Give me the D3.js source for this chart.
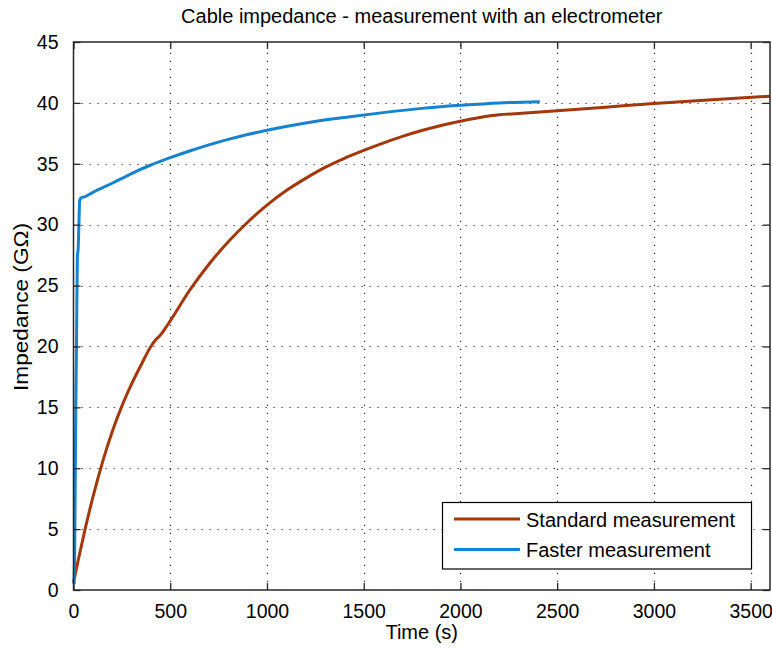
<!DOCTYPE html>
<html>
<head>
<meta charset="utf-8">
<script src="https://cdn.jsdelivr.net/npm/d3@7"></script>
<style>
  html, body { margin: 0; padding: 0; background: #fff; }
  svg { display: block; }
  text { font-family: "Liberation Sans", Arial, Helvetica, sans-serif; fill: #000; }
</style>
</head>
<body>
<div id="chart"></div>
<script>
// ---- Data ----
const standardTime = [0, 25, 60, 100, 150, 200, 250, 300, 350, 400, 425, 450, 475, 500, 600, 700, 800, 900, 1000, 1100, 1200, 1300, 1400, 1500, 1600, 1700, 1800, 1900, 2000, 2100, 2200, 2300, 2500, 2750, 3000, 3300, 3600];
const standardZ    = [0.6, 2.5, 5.0, 7.6, 10.5, 13.0, 15.1, 16.9, 18.5, 20.0, 20.55, 20.95, 21.5, 22.1, 24.6, 26.75, 28.6, 30.2, 31.6, 32.8, 33.8, 34.7, 35.45, 36.1, 36.7, 37.25, 37.73, 38.15, 38.5, 38.8, 39.02, 39.12, 39.35, 39.65, 39.95, 40.25, 40.55];

const fasterTime = [3, 6, 9, 12, 16, 20, 24, 28, 32, 40, 60, 100, 200, 300, 400, 500, 600, 700, 800, 900, 1000, 1200, 1400, 1600, 1800, 2000, 2200, 2410];
const fasterZ    = [0.5, 3, 9, 15, 21, 27.4, 28, 30, 32.0, 32.2, 32.3, 32.65, 33.4, 34.2, 34.9, 35.5, 36.05, 36.55, 37.0, 37.4, 37.75, 38.35, 38.8, 39.2, 39.55, 39.8, 40.0, 40.1];

const seriesNames = ["Standard measurement", "Faster measurement"];
const seriesColors = ["#a3380c", "#1583cf"];

const xTicks = [0, 500, 1000, 1500, 2000, 2500, 3000, 3500];
const yTicks = [0, 5, 10, 15, 20, 25, 30, 35, 40, 45];

const title = "Cable impedance - measurement with an electrometer";
const xLabel = "Time (s)";
const yLabel = "Impedance (G\u03A9)";

// ---- Layout ----
const W = 772, H = 651;
const plot = { left: 73.5, top: 42, right: 770, bottom: 590 };

const svg = d3.select("#chart").append("svg").attr("width", W).attr("height", H);

const x = d3.scaleLinear().domain([0, 3600]).range([plot.left, plot.right]);
const y = d3.scaleLinear().domain([0, 45]).range([plot.bottom, plot.top]);

const axisColor = "#262626";

// grid
const grid = svg.append("g").attr("stroke", axisColor).attr("stroke-width", 1.2)
  .attr("stroke-dasharray", "1.2,6.8").attr("fill", "none");
xTicks.filter(t => t > 0).forEach(t => {
  grid.append("line").attr("x1", Math.round(x(t)) + 0.5).attr("x2", Math.round(x(t)) + 0.5)
    .attr("y1", plot.bottom).attr("y2", plot.top);
});
yTicks.filter(t => t > 0 && t < 45).forEach(t => {
  grid.append("line").attr("y1", Math.round(y(t)) + 0.5).attr("y2", Math.round(y(t)) + 0.5)
    .attr("x1", plot.left).attr("x2", plot.right);
});

// lines
const line = d3.line().x(d => x(d[0])).y(d => y(d[1])).curve(d3.curveMonotoneX);
const series = [
  d3.zip(standardTime, standardZ),
  d3.zip(fasterTime, fasterZ)
];
series.forEach((s, i) => {
  svg.append("path").datum(s).attr("d", line)
    .attr("fill", "none").attr("stroke", seriesColors[i])
    .attr("stroke-width", 3).attr("stroke-linejoin", "round");
});

// axes (ticks inward) on all four sides
const tickLen = 7;
const bottomAxis = d3.axisBottom(x).tickValues(xTicks).tickSize(-tickLen).tickPadding(tickLen + 7).tickFormat(d3.format("d"));
const leftAxis = d3.axisLeft(y).tickValues(yTicks).tickSize(-tickLen).tickPadding(tickLen + 8).tickFormat(d3.format("d"));
const topAxis = d3.axisTop(x).tickValues(xTicks).tickSize(-tickLen).tickFormat("");
const rightAxis = d3.axisRight(y).tickValues(yTicks).tickSize(-tickLen).tickFormat("");

function styleAxis(g) {
  g.selectAll(".domain").remove();
  g.selectAll(".tick line").attr("stroke", axisColor).attr("stroke-width", 1.3);
  g.selectAll(".tick text").attr("font-size", 19.5).attr("fill", "#000")
    .style("font-family", "'Liberation Sans', Arial, sans-serif");
}
svg.append("g").attr("transform", `translate(0,${plot.bottom})`).call(bottomAxis).call(styleAxis);
svg.append("g").attr("transform", `translate(${plot.left},0)`).call(leftAxis).call(styleAxis);
svg.append("g").attr("transform", `translate(0,${plot.top})`).call(topAxis).call(styleAxis);
svg.append("g").attr("transform", `translate(${plot.right},0)`).call(rightAxis).call(styleAxis);

// box
svg.append("rect").attr("x", plot.left).attr("y", plot.top)
  .attr("width", plot.right - plot.left).attr("height", plot.bottom - plot.top)
  .attr("fill", "none").attr("stroke", axisColor).attr("stroke-width", 1.5);

// title and labels
svg.append("text").attr("x", (plot.left + plot.right) / 2).attr("y", 23)
  .attr("text-anchor", "middle").attr("font-size", 20).text(title);
svg.append("text").attr("x", (plot.left + plot.right) / 2).attr("y", 639)
  .attr("text-anchor", "middle").attr("font-size", 20).text(xLabel);
svg.append("text").attr("transform", `translate(28,307) rotate(-90)`)
  .attr("text-anchor", "middle").attr("font-size", 20.5)
  .attr("textLength", 168).attr("lengthAdjust", "spacingAndGlyphs").text(yLabel);

// legend
const leg = svg.append("g");
leg.append("rect").attr("x", 442.5).attr("y", 502.5).attr("width", 309).attr("height", 66.5)
  .attr("fill", "#fff").attr("stroke", "#000").attr("stroke-width", 1.2);
seriesNames.forEach((name, i) => {
  const cy = 519 + i * 30.5;
  leg.append("line").attr("x1", 454).attr("x2", 520).attr("y1", cy).attr("y2", cy)
    .attr("stroke", seriesColors[i]).attr("stroke-width", 3);
  leg.append("text").attr("x", 526).attr("y", cy + 7.5).attr("font-size", 20).text(name);
});
</script>
</body>
</html>
